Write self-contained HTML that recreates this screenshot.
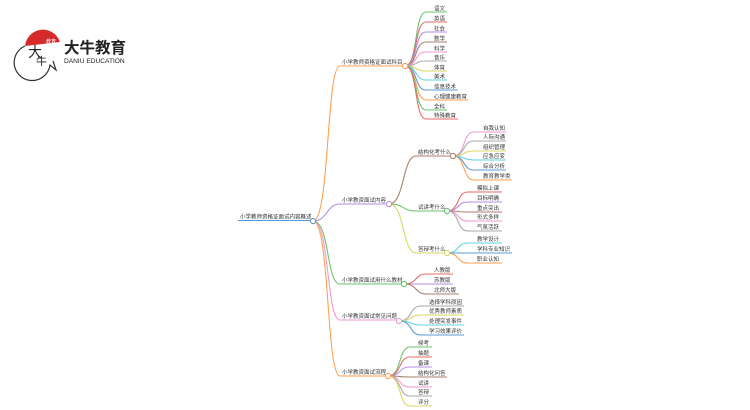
<!DOCTYPE html>
<html><head><meta charset="utf-8"><style>
html,body{margin:0;padding:0;background:#fff;}
svg{display:block}
text{font-family:"Liberation Sans","Noto Sans CJK SC",sans-serif;font-size:5.5px;fill:#333}
path{fill:none;stroke-width:1.1}
circle{fill:#fff;stroke-width:1.1}
</style></head><body>
<svg width="750" height="410" viewBox="0 0 750 410" xmlns="http://www.w3.org/2000/svg">
<g>
<path d="M25 46 A18 18 0 0 1 60 42 Z" style="fill:#d62a2a;stroke:none"/>
<path d="M25 46 A18 18 0 1 0 50 65 L56 70 L53 61" style="stroke:#333;stroke-width:1.2;fill:none"/>
<text x="28" y="57" style="font-size:14px;fill:#222">大</text>
<text x="36" y="65" style="font-size:11px;fill:#222">牛</text>
<text x="46" y="43" style="font-size:5px;fill:#fff">教育</text>
<text x="64" y="53" style="font-size:15.5px;font-weight:bold;fill:#222">大牛教育</text>
<text x="64" y="63" style="font-size:6.6px;fill:#222">DANIU EDUCATION</text>
</g>

<path d="M238 220.5 H313" stroke="#5b9bd5"/>
<text x="240" y="218.5">小学教师资格证面试内容概述</text>

<path d="M313 221 C330 221,326 66,340 66 H405" stroke="#ffa050"/>
<path d="M313 221 C328 221,326 204,340 204 H389" stroke="#b58ee0"/>
<path d="M313 221 C330 221,326 284,340 284 H404" stroke="#6ac46a"/>
<path d="M313 221 C330 221,326 320,340 320 H399" stroke="#f09ad0"/>
<path d="M313 221 C330 221,326 376,340 376 H388" stroke="#ffa050"/>
<circle cx="313" cy="221" r="2.6" stroke="#5b9bd5"/>
<text x="342" y="64">小学教师资格证面试科目</text>
<text x="342" y="202">小学教资面试内容</text>
<text x="342" y="282">小学教资面试用什么教材</text>
<text x="342" y="318">小学教资面试常见问题</text>
<text x="342" y="374">小学教资面试流程</text>

<g>
<path d="M405 66 C418 66,414 12,426 12 H447" stroke="#6ac46a"/>
<path d="M405 66 C418 66,414 22,426 22 H447" stroke="#e86a6a"/>
<path d="M405 66 C418 66,414 32,426 32 H447" stroke="#b58ee0"/>
<path d="M405 66 C418 66,414 42,426 42 H447" stroke="#a98070"/>
<path d="M405 66 C418 66,414 52,426 52 H447" stroke="#f09ad0"/>
<path d="M405 66 C418 66,414 61,426 61 H447" stroke="#aaa"/>
<path d="M405 66 C418 66,414 71,426 71 H447" stroke="#d8d860"/>
<path d="M405 66 C418 66,414 80,426 80 H447" stroke="#5dd6e6"/>
<path d="M405 66 C418 66,414 90,426 90 H458" stroke="#5b9bd5"/>
<path d="M405 66 C418 66,414 100,426 100 H468" stroke="#ffa050"/>
<path d="M405 66 C418 66,414 110,426 110 H447" stroke="#6ac46a"/>
<path d="M405 66 C418 66,414 119,426 119 H458" stroke="#e86a6a"/>
<circle cx="405" cy="66" r="2.6" stroke="#ffa050"/>
<text x="434" y="10.5">语文</text><text x="434" y="20.5">英语</text><text x="434" y="30.5">社会</text>
<text x="434" y="40.5">数学</text><text x="434" y="50.5">科学</text><text x="434" y="59.5">音乐</text>
<text x="434" y="69.5">体育</text><text x="434" y="78.5">美术</text><text x="434" y="88.5">信息技术</text>
<text x="434" y="98.5">心理健康教育</text><text x="434" y="108.5">全科</text><text x="434" y="117.5">特殊教育</text>
</g>

<path d="M389 204 C405 204,402 156,416 156 H453" stroke="#a98070"/>
<path d="M389 204 C405 204,402 211,416 211 H447" stroke="#6ac46a"/>
<path d="M389 204 C405 204,402 253,416 253 H447" stroke="#d8d860"/>
<circle cx="389" cy="204" r="2.6" stroke="#b58ee0"/>
<text x="418" y="154">结构化考什么</text>
<text x="418" y="209">试讲考什么</text>
<text x="418" y="251">答辩考什么</text>

<path d="M453 156 C466 156,462 132,474 132 H506" stroke="#f09ad0"/>
<path d="M453 156 C466 156,462 141,474 141 H506" stroke="#aaa"/>
<path d="M453 156 C466 156,462 151,474 151 H506" stroke="#d8d860"/>
<path d="M453 156 C466 156,462 160,474 160 H506" stroke="#5dd6e6"/>
<path d="M453 156 C466 156,462 170,474 170 H506" stroke="#5b9bd5"/>
<path d="M453 156 C466 156,462 180,474 180 H512" stroke="#ffa050"/>
<circle cx="453" cy="156" r="2.6" stroke="#a98070"/>
<text x="483" y="130">自我认知</text><text x="483" y="139">人际沟通</text><text x="483" y="149">组织管理</text>
<text x="483" y="158">应急应变</text><text x="483" y="168">综合分析</text><text x="483" y="178">教育教学类</text>

<path d="M447 211 C460 211,456 192,468 192 H502" stroke="#e86a6a"/>
<path d="M447 211 C460 211,456 202,468 202 H502" stroke="#b58ee0"/>
<path d="M447 211 C460 211,456 212,468 212 H502" stroke="#a98070"/>
<path d="M447 211 C460 211,456 221,468 221 H502" stroke="#f09ad0"/>
<path d="M447 211 C460 211,456 231,468 231 H502" stroke="#aaa"/>
<circle cx="447" cy="211" r="2.6" stroke="#6ac46a"/>
<text x="477" y="190">模拟上课</text><text x="477" y="200">目标明确</text><text x="477" y="210">重点突出</text>
<text x="477" y="219">形式多样</text><text x="477" y="229">气氛活跃</text>

<path d="M447 253 C460 253,456 243,468 243 H502" stroke="#5dd6e6"/>
<path d="M447 253 C460 253,456 253,468 253 H512" stroke="#5b9bd5"/>
<path d="M447 253 C460 253,456 263,468 263 H502" stroke="#ffa050"/>
<circle cx="447" cy="253" r="2.6" stroke="#d8d860"/>
<text x="477" y="241">教学设计</text><text x="477" y="251">学科专业知识</text><text x="477" y="261">职业认知</text>

<path d="M404 284 C418 284,414 274,427 274 H453" stroke="#e86a6a"/>
<path d="M404 284 C418 284,414 284,427 284 H453" stroke="#b58ee0"/>
<path d="M404 284 C418 284,414 294,427 294 H459" stroke="#a98070"/>
<circle cx="404" cy="284" r="2.6" stroke="#6ac46a"/>
<text x="434" y="272">人教版</text><text x="434" y="282">苏教版</text><text x="434" y="292">北师大版</text>

<path d="M399 321 C413 321,409 306,421 306 H464" stroke="#aaa"/>
<path d="M399 321 C413 321,409 315,421 315 H464" stroke="#d8d860"/>
<path d="M399 321 C413 321,409 325,421 325 H464" stroke="#5dd6e6"/>
<path d="M399 321 C413 321,409 335,421 335 H464" stroke="#5b9bd5"/>
<circle cx="399" cy="321" r="2.6" stroke="#f09ad0"/>
<text x="429" y="304">选择学科原因</text><text x="429" y="313">优秀教师素质</text>
<text x="429" y="323">处理突发事件</text><text x="429" y="333">学习效果评价</text>

<path d="M388 376 C402 376,398 347,410 347 H432" stroke="#6ac46a"/>
<path d="M388 376 C402 376,398 357,410 357 H432" stroke="#e86a6a"/>
<path d="M388 376 C402 376,398 367,410 367 H432" stroke="#b58ee0"/>
<path d="M388 376 C402 376,398 377,410 377 H447" stroke="#a98070"/>
<path d="M388 376 C402 376,398 387,410 387 H432" stroke="#f09ad0"/>
<path d="M388 376 C402 376,398 396,410 396 H432" stroke="#aaa"/>
<path d="M388 376 C402 376,398 406,410 406 H432" stroke="#d8d860"/>
<circle cx="388" cy="376" r="2.6" stroke="#ffa050"/>
<text x="418" y="345">候考</text><text x="418" y="355">抽题</text><text x="418" y="365">备课</text>
<text x="418" y="375">结构化问答</text><text x="418" y="385">试讲</text><text x="418" y="394">答辩</text><text x="418" y="404">评分</text>
</svg>
</body></html>
